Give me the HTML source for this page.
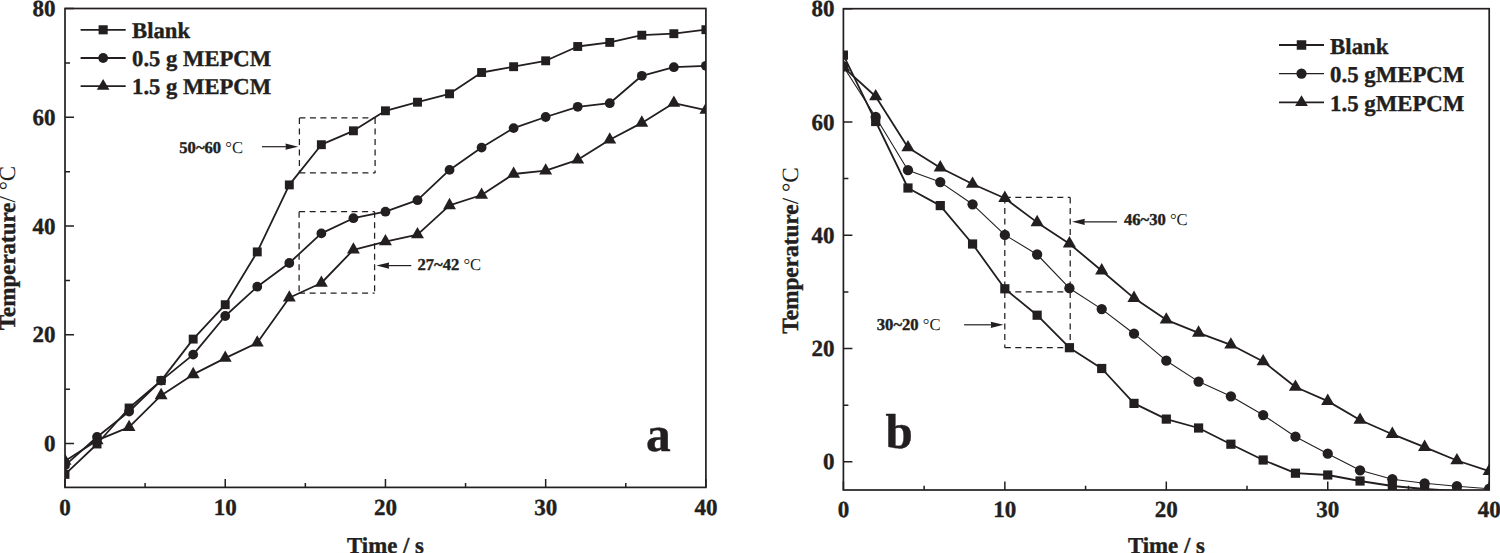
<!DOCTYPE html><html><head><meta charset="utf-8"><style>html,body{margin:0;padding:0;background:#fff;width:1500px;height:553px;overflow:hidden}svg{display:block}text{font-family:"Liberation Serif",serif;fill:#231f20;text-rendering:geometricPrecision}.b{font-weight:bold;stroke:#231f20;stroke-width:0.4px;stroke-linejoin:round}.r{font-weight:normal;stroke:none}</style></head><body>
<svg width="1500" height="553" viewBox="0 0 1500 553">
<rect width="1500" height="553" fill="#fff"/>
<clipPath id="ca"><rect x="65" y="8.5" width="640.9" height="478.9"/></clipPath>
<rect x="65" y="8.5" width="640.9" height="478.9" fill="none" stroke="#231f20" stroke-width="1.7"/>
<path d="M65 443.6H74M65 389.21H70M65 334.83H74M65 280.44H70M65 226.05H74M65 171.66H70M65 117.28H74M65 62.89H70M65 8.5H74M65 487.4V479M145.11 487.4V483.1M225.23 487.4V479M305.34 487.4V483.1M385.45 487.4V479M465.56 487.4V483.1M545.67 487.4V479M625.79 487.4V483.1M705.9 487.4V479" stroke="#231f20" stroke-width="1.5" fill="none"/>
<text x="55.4" y="451.16" text-anchor="end" class="b" font-size="23">0</text>
<text x="55.4" y="342.38" text-anchor="end" class="b" font-size="23">20</text>
<text x="55.4" y="233.61" text-anchor="end" class="b" font-size="23">40</text>
<text x="55.4" y="124.83" text-anchor="end" class="b" font-size="23">60</text>
<text x="55.4" y="16.06" text-anchor="end" class="b" font-size="23">80</text>
<text x="65" y="514.7" text-anchor="middle" class="b" font-size="23">0</text>
<text x="225.23" y="514.7" text-anchor="middle" class="b" font-size="23">10</text>
<text x="385.45" y="514.7" text-anchor="middle" class="b" font-size="23">20</text>
<text x="545.67" y="514.7" text-anchor="middle" class="b" font-size="23">30</text>
<text x="705.9" y="514.7" text-anchor="middle" class="b" font-size="23">40</text>
<g clip-path="url(#ca)">
<polyline points="65,461 97.05,440.4 129.09,427.2 161.13,395.4 193.18,374.4 225.23,358.1 257.27,342.8 289.31,297.8 321.36,283 353.41,249.8 385.45,241.6 417.5,234.6 449.54,205.4 481.59,195 513.63,174 545.67,170.7 577.72,159.8 609.76,139.7 641.81,122.9 673.86,103.1 705.9,110.1" fill="none" stroke="#231f20" stroke-width="1.8" stroke-linejoin="round"/>
<g fill="#231f20">
<path d="M65 453.47L71.45 464.77L58.55 464.77Z"/>
<path d="M97.05 432.87L103.5 444.17L90.59 444.17Z"/>
<path d="M129.09 419.67L135.54 430.97L122.64 430.97Z"/>
<path d="M161.13 387.87L167.58 399.17L154.69 399.17Z"/>
<path d="M193.18 366.87L199.63 378.17L186.73 378.17Z"/>
<path d="M225.23 350.57L231.68 361.87L218.78 361.87Z"/>
<path d="M257.27 335.27L263.72 346.57L250.82 346.57Z"/>
<path d="M289.31 290.27L295.76 301.57L282.87 301.57Z"/>
<path d="M321.36 275.47L327.81 286.77L314.91 286.77Z"/>
<path d="M353.41 242.27L359.86 253.57L346.96 253.57Z"/>
<path d="M385.45 234.07L391.9 245.37L379 245.37Z"/>
<path d="M417.5 227.07L423.94 238.37L411.05 238.37Z"/>
<path d="M449.54 197.87L455.99 209.17L443.09 209.17Z"/>
<path d="M481.59 187.47L488.04 198.77L475.14 198.77Z"/>
<path d="M513.63 166.47L520.08 177.77L507.18 177.77Z"/>
<path d="M545.67 163.17L552.12 174.47L539.22 174.47Z"/>
<path d="M577.72 152.27L584.17 163.57L571.27 163.57Z"/>
<path d="M609.76 132.17L616.22 143.47L603.31 143.47Z"/>
<path d="M641.81 115.37L648.26 126.67L635.36 126.67Z"/>
<path d="M673.86 95.57L680.31 106.87L667.4 106.87Z"/>
<path d="M705.9 102.57L712.35 113.87L699.45 113.87Z"/>
</g></g>
<g clip-path="url(#ca)">
<polyline points="65,465.4 97.05,437 129.09,411.5 161.13,380.6 193.18,354.6 225.23,316 257.27,286.7 289.31,263 321.36,233.4 353.41,218.2 385.45,211.7 417.5,200.2 449.54,169.9 481.59,147.6 513.63,128.1 545.67,117 577.72,106.8 609.76,103.2 641.81,75.8 673.86,67.2 705.9,65.8" fill="none" stroke="#231f20" stroke-width="1.8" stroke-linejoin="round"/>
<g fill="#231f20">
<circle cx="65" cy="465.4" r="4.9"/>
<circle cx="97.05" cy="437" r="4.9"/>
<circle cx="129.09" cy="411.5" r="4.9"/>
<circle cx="161.13" cy="380.6" r="4.9"/>
<circle cx="193.18" cy="354.6" r="4.9"/>
<circle cx="225.23" cy="316" r="4.9"/>
<circle cx="257.27" cy="286.7" r="4.9"/>
<circle cx="289.31" cy="263" r="4.9"/>
<circle cx="321.36" cy="233.4" r="4.9"/>
<circle cx="353.41" cy="218.2" r="4.9"/>
<circle cx="385.45" cy="211.7" r="4.9"/>
<circle cx="417.5" cy="200.2" r="4.9"/>
<circle cx="449.54" cy="169.9" r="4.9"/>
<circle cx="481.59" cy="147.6" r="4.9"/>
<circle cx="513.63" cy="128.1" r="4.9"/>
<circle cx="545.67" cy="117" r="4.9"/>
<circle cx="577.72" cy="106.8" r="4.9"/>
<circle cx="609.76" cy="103.2" r="4.9"/>
<circle cx="641.81" cy="75.8" r="4.9"/>
<circle cx="673.86" cy="67.2" r="4.9"/>
<circle cx="705.9" cy="65.8" r="4.9"/>
</g></g>
<g clip-path="url(#ca)">
<polyline points="65,474.4 97.05,444 129.09,408 161.13,380.6 193.18,339.1 225.23,304.7 257.27,251.9 289.31,184.9 321.36,144.7 353.41,130.8 385.45,110.8 417.5,102.2 449.54,93.8 481.59,72.5 513.63,66.7 545.67,60.8 577.72,46.5 609.76,42.4 641.81,35.2 673.86,33.7 705.9,29.7" fill="none" stroke="#231f20" stroke-width="1.8" stroke-linejoin="round"/>
<g fill="#231f20">
<rect x="60.55" y="469.95" width="8.9" height="8.9"/>
<rect x="92.59" y="439.55" width="8.9" height="8.9"/>
<rect x="124.64" y="403.55" width="8.9" height="8.9"/>
<rect x="156.69" y="376.15" width="8.9" height="8.9"/>
<rect x="188.73" y="334.65" width="8.9" height="8.9"/>
<rect x="220.78" y="300.25" width="8.9" height="8.9"/>
<rect x="252.82" y="247.45" width="8.9" height="8.9"/>
<rect x="284.87" y="180.45" width="8.9" height="8.9"/>
<rect x="316.91" y="140.25" width="8.9" height="8.9"/>
<rect x="348.96" y="126.35" width="8.9" height="8.9"/>
<rect x="381" y="106.35" width="8.9" height="8.9"/>
<rect x="413.05" y="97.75" width="8.9" height="8.9"/>
<rect x="445.09" y="89.35" width="8.9" height="8.9"/>
<rect x="477.14" y="68.05" width="8.9" height="8.9"/>
<rect x="509.18" y="62.25" width="8.9" height="8.9"/>
<rect x="541.22" y="56.35" width="8.9" height="8.9"/>
<rect x="573.27" y="42.05" width="8.9" height="8.9"/>
<rect x="605.31" y="37.95" width="8.9" height="8.9"/>
<rect x="637.36" y="30.75" width="8.9" height="8.9"/>
<rect x="669.4" y="29.25" width="8.9" height="8.9"/>
<rect x="701.45" y="25.25" width="8.9" height="8.9"/>
</g></g>
<clipPath id="cb"><rect x="843.4" y="8.7" width="645.8" height="481.3"/></clipPath>
<rect x="843.4" y="8.7" width="645.8" height="481.3" fill="none" stroke="#231f20" stroke-width="1.7"/>
<path d="M843.4 461.8H852.4M843.4 405.16H848.4M843.4 348.52H852.4M843.4 291.89H848.4M843.4 235.25H852.4M843.4 178.61H848.4M843.4 121.97H852.4M843.4 65.34H848.4M843.4 8.7H852.4M843.4 490V481.6M924.12 490V485.7M1004.85 490V481.6M1085.58 490V485.7M1166.3 490V481.6M1247.03 490V485.7M1327.75 490V481.6M1408.47 490V485.7M1489.2 490V481.6" stroke="#231f20" stroke-width="1.5" fill="none"/>
<text x="834.4" y="469.36" text-anchor="end" class="b" font-size="23">0</text>
<text x="834.4" y="356.08" text-anchor="end" class="b" font-size="23">20</text>
<text x="834.4" y="242.81" text-anchor="end" class="b" font-size="23">40</text>
<text x="834.4" y="129.53" text-anchor="end" class="b" font-size="23">60</text>
<text x="834.4" y="16.26" text-anchor="end" class="b" font-size="23">80</text>
<text x="843.4" y="517.3" text-anchor="middle" class="b" font-size="23">0</text>
<text x="1004.85" y="517.3" text-anchor="middle" class="b" font-size="23">10</text>
<text x="1166.3" y="517.3" text-anchor="middle" class="b" font-size="23">20</text>
<text x="1327.75" y="517.3" text-anchor="middle" class="b" font-size="23">30</text>
<text x="1489.2" y="517.3" text-anchor="middle" class="b" font-size="23">40</text>
<g clip-path="url(#cb)">
<polyline points="843.4,67.2 875.69,96.5 907.98,147.5 940.27,167.7 972.56,184 1004.85,198.2 1037.14,222.4 1069.43,243.7 1101.72,270.7 1134.01,298.1 1166.3,319.8 1198.59,332.9 1230.88,344.8 1263.17,361.5 1295.46,387 1327.75,401.1 1360.04,420 1392.33,434.2 1424.62,447.2 1456.91,460.5 1489.2,471.1" fill="none" stroke="#231f20" stroke-width="1.8" stroke-linejoin="round"/>
<g fill="#231f20">
<path d="M843.4 59.6L850 71L836.8 71Z"/>
<path d="M875.69 88.9L882.29 100.3L869.09 100.3Z"/>
<path d="M907.98 139.9L914.58 151.3L901.38 151.3Z"/>
<path d="M940.27 160.1L946.87 171.5L933.67 171.5Z"/>
<path d="M972.56 176.4L979.16 187.8L965.96 187.8Z"/>
<path d="M1004.85 190.6L1011.45 202L998.25 202Z"/>
<path d="M1037.14 214.8L1043.74 226.2L1030.54 226.2Z"/>
<path d="M1069.43 236.1L1076.03 247.5L1062.83 247.5Z"/>
<path d="M1101.72 263.1L1108.32 274.5L1095.12 274.5Z"/>
<path d="M1134.01 290.5L1140.61 301.9L1127.41 301.9Z"/>
<path d="M1166.3 312.2L1172.9 323.6L1159.7 323.6Z"/>
<path d="M1198.59 325.3L1205.19 336.7L1191.99 336.7Z"/>
<path d="M1230.88 337.2L1237.48 348.6L1224.28 348.6Z"/>
<path d="M1263.17 353.9L1269.77 365.3L1256.57 365.3Z"/>
<path d="M1295.46 379.4L1302.06 390.8L1288.86 390.8Z"/>
<path d="M1327.75 393.5L1334.35 404.9L1321.15 404.9Z"/>
<path d="M1360.04 412.4L1366.64 423.8L1353.44 423.8Z"/>
<path d="M1392.33 426.6L1398.93 438L1385.73 438Z"/>
<path d="M1424.62 439.6L1431.22 451L1418.02 451Z"/>
<path d="M1456.91 452.9L1463.51 464.3L1450.31 464.3Z"/>
<path d="M1489.2 463.5L1495.8 474.9L1482.6 474.9Z"/>
</g></g>
<g clip-path="url(#cb)">
<polyline points="843.4,66.5 875.69,117 907.98,170.2 940.27,182.1 972.56,204.3 1004.85,234.9 1037.14,254.5 1069.43,288.2 1101.72,309.1 1134.01,333.7 1166.3,360.7 1198.59,381.6 1230.88,396.3 1263.17,415.1 1295.46,436.7 1327.75,453.7 1360.04,470.3 1392.33,479.2 1424.62,483.3 1456.91,486.2 1489.2,488.7" fill="none" stroke="#231f20" stroke-width="1.1" stroke-linejoin="round"/>
<g fill="#231f20">
<circle cx="843.4" cy="66.5" r="5.15"/>
<circle cx="875.69" cy="117" r="5.15"/>
<circle cx="907.98" cy="170.2" r="5.15"/>
<circle cx="940.27" cy="182.1" r="5.15"/>
<circle cx="972.56" cy="204.3" r="5.15"/>
<circle cx="1004.85" cy="234.9" r="5.15"/>
<circle cx="1037.14" cy="254.5" r="5.15"/>
<circle cx="1069.43" cy="288.2" r="5.15"/>
<circle cx="1101.72" cy="309.1" r="5.15"/>
<circle cx="1134.01" cy="333.7" r="5.15"/>
<circle cx="1166.3" cy="360.7" r="5.15"/>
<circle cx="1198.59" cy="381.6" r="5.15"/>
<circle cx="1230.88" cy="396.3" r="5.15"/>
<circle cx="1263.17" cy="415.1" r="5.15"/>
<circle cx="1295.46" cy="436.7" r="5.15"/>
<circle cx="1327.75" cy="453.7" r="5.15"/>
<circle cx="1360.04" cy="470.3" r="5.15"/>
<circle cx="1392.33" cy="479.2" r="5.15"/>
<circle cx="1424.62" cy="483.3" r="5.15"/>
<circle cx="1456.91" cy="486.2" r="5.15"/>
<circle cx="1489.2" cy="488.7" r="5.15"/>
</g></g>
<g clip-path="url(#cb)">
<polyline points="843.4,55.1 875.69,121.5 907.98,188 940.27,205.6 972.56,244 1004.85,288.8 1037.14,315.2 1069.43,347.7 1101.72,368.5 1134.01,403.4 1166.3,419.1 1198.59,428 1230.88,444.2 1263.17,460 1295.46,473.2 1327.75,475 1360.04,481 1392.33,486 1424.62,489 1456.91,491 1489.2,492" fill="none" stroke="#231f20" stroke-width="1.8" stroke-linejoin="round"/>
<g fill="#231f20">
<rect x="838.8" y="50.5" width="9.2" height="9.2"/>
<rect x="871.09" y="116.9" width="9.2" height="9.2"/>
<rect x="903.38" y="183.4" width="9.2" height="9.2"/>
<rect x="935.67" y="201" width="9.2" height="9.2"/>
<rect x="967.96" y="239.4" width="9.2" height="9.2"/>
<rect x="1000.25" y="284.2" width="9.2" height="9.2"/>
<rect x="1032.54" y="310.6" width="9.2" height="9.2"/>
<rect x="1064.83" y="343.1" width="9.2" height="9.2"/>
<rect x="1097.12" y="363.9" width="9.2" height="9.2"/>
<rect x="1129.41" y="398.8" width="9.2" height="9.2"/>
<rect x="1161.7" y="414.5" width="9.2" height="9.2"/>
<rect x="1193.99" y="423.4" width="9.2" height="9.2"/>
<rect x="1226.28" y="439.6" width="9.2" height="9.2"/>
<rect x="1258.57" y="455.4" width="9.2" height="9.2"/>
<rect x="1290.86" y="468.6" width="9.2" height="9.2"/>
<rect x="1323.15" y="470.4" width="9.2" height="9.2"/>
<rect x="1355.44" y="476.4" width="9.2" height="9.2"/>
<rect x="1387.73" y="481.4" width="9.2" height="9.2"/>
<rect x="1420.02" y="484.4" width="9.2" height="9.2"/>
<rect x="1452.31" y="486.4" width="9.2" height="9.2"/>
<rect x="1484.6" y="487.4" width="9.2" height="9.2"/>
</g></g>
<text x="385.5" y="552.9" text-anchor="middle" class="b" font-size="22.8">Time / s</text>
<text x="1166.4" y="552.9" text-anchor="middle" class="b" font-size="22.8">Time / s</text>
<text transform="translate(15.3 248.0) rotate(-90)" text-anchor="middle" font-size="23"><tspan class="b">Temperature</tspan><tspan class="r">/ °C</tspan></text>
<text transform="translate(798 250.45) rotate(-90)" text-anchor="middle" font-size="23.3"><tspan class="b">Temperature</tspan><tspan class="r">/ °C</tspan></text>
<text x="646" y="451.3" class="b" font-size="49.5">a</text>
<text x="885.6" y="448" class="b" font-size="49">b</text>
<line x1="80.6" y1="29.8" x2="125.7" y2="29.8" stroke="#231f20" stroke-width="1.8"/>
<g fill="#231f20">
<rect x="98.6" y="25.25" width="9.1" height="9.1"/>
</g>
<text x="132.1" y="37.8" class="b" font-size="22.65">Blank</text>
<line x1="80.6" y1="58" x2="125.7" y2="58" stroke="#231f20" stroke-width="1.8"/>
<g fill="#231f20">
<circle cx="103.15" cy="58" r="4.9"/>
</g>
<text x="132.1" y="66" class="b" font-size="22.65">0.5 g MEPCM</text>
<line x1="80.6" y1="86.2" x2="125.7" y2="86.2" stroke="#231f20" stroke-width="1.8"/>
<g fill="#231f20">
<path d="M103.15 79L109.45 89.8L96.85 89.8Z"/>
</g>
<text x="132.1" y="94.2" class="b" font-size="22.65">1.5 g MEPCM</text>
<line x1="1279" y1="45" x2="1324" y2="45" stroke="#231f20" stroke-width="1.8"/>
<g fill="#231f20">
<rect x="1296.75" y="40.25" width="9.5" height="9.5"/>
</g>
<text x="1330.1" y="53.5" class="b" font-size="22.8">Blank</text>
<line x1="1279" y1="73.6" x2="1324" y2="73.6" stroke="#231f20" stroke-width="1.1"/>
<g fill="#231f20">
<circle cx="1301.5" cy="73.6" r="5.15"/>
</g>
<text x="1330.1" y="82.1" class="b" font-size="22.8">0.5 gMEPCM</text>
<line x1="1279" y1="102.4" x2="1324" y2="102.4" stroke="#231f20" stroke-width="1.8"/>
<g fill="#231f20">
<path d="M1301.5 95.13L1307.9 106.03L1295.1 106.03Z"/>
</g>
<text x="1330.1" y="110.9" class="b" font-size="22.8">1.5 gMEPCM</text>
<line x1="299.4" y1="117.9" x2="375.1" y2="117.9" stroke="#231f20" stroke-width="1.25" stroke-dasharray="6 4.5"/>
<line x1="299.4" y1="117.9" x2="299.4" y2="172.9" stroke="#231f20" stroke-width="1.25" stroke-dasharray="6 4.5"/>
<line x1="375.1" y1="117.9" x2="375.1" y2="172.9" stroke="#231f20" stroke-width="1.25" stroke-dasharray="6 4.5"/>
<line x1="299.4" y1="172.9" x2="375.1" y2="172.9" stroke="#231f20" stroke-width="1.25" stroke-dasharray="6 4.5"/>
<line x1="299.1" y1="211.7" x2="374.6" y2="211.7" stroke="#231f20" stroke-width="1.25" stroke-dasharray="6 4.5"/>
<line x1="299.1" y1="211.7" x2="299.1" y2="293.1" stroke="#231f20" stroke-width="1.25" stroke-dasharray="6 4.5"/>
<line x1="374.6" y1="211.7" x2="374.6" y2="293.1" stroke="#231f20" stroke-width="1.25" stroke-dasharray="6 4.5"/>
<line x1="299.1" y1="293.1" x2="374.6" y2="293.1" stroke="#231f20" stroke-width="1.25" stroke-dasharray="6 4.5"/>
<line x1="262" y1="146.7" x2="288.5" y2="146.7" stroke="#231f20" stroke-width="1.2"/>
<path d="M298.2 146.7L285.5 143.6L285.9 146.7L285.5 149.8Z" fill="#231f20"/>
<line x1="411.3" y1="265.6" x2="386.1" y2="265.6" stroke="#231f20" stroke-width="1.2"/>
<path d="M376.4 265.6L389.1 262.5L388.7 265.6L389.1 268.7Z" fill="#231f20"/>
<text x="179.3" y="153.2" font-size="16.6"><tspan class="b">50~60</tspan><tspan class="r"> °C</tspan></text>
<text x="417.5" y="270.3" font-size="16.6"><tspan class="b">27~42</tspan><tspan class="r"> °C</tspan></text>
<line x1="1004.8" y1="197.4" x2="1070.2" y2="197.4" stroke="#231f20" stroke-width="1.25" stroke-dasharray="6 4.5"/>
<line x1="1004.8" y1="197.4" x2="1004.8" y2="347.7" stroke="#231f20" stroke-width="1.25" stroke-dasharray="6 4.5"/>
<line x1="1070.2" y1="197.4" x2="1070.2" y2="347.7" stroke="#231f20" stroke-width="1.25" stroke-dasharray="6 4.5"/>
<line x1="1004.8" y1="347.7" x2="1070.2" y2="347.7" stroke="#231f20" stroke-width="1.25" stroke-dasharray="6 4.5"/>
<line x1="1004.8" y1="291.8" x2="1070.2" y2="291.8" stroke="#231f20" stroke-width="1.25" stroke-dasharray="6 4.5"/>
<line x1="1117" y1="221.8" x2="1081.8" y2="221.8" stroke="#231f20" stroke-width="1.2"/>
<path d="M1072.1 221.8L1084.8 218.7L1084.4 221.8L1084.8 224.9Z" fill="#231f20"/>
<line x1="964.1" y1="324.8" x2="993.8" y2="324.8" stroke="#231f20" stroke-width="1.2"/>
<path d="M1003.5 324.8L990.8 321.7L991.2 324.8L990.8 327.9Z" fill="#231f20"/>
<text x="1124" y="224.9" font-size="16.6"><tspan class="b">46~30</tspan><tspan class="r"> °C</tspan></text>
<text x="876.8" y="329.8" font-size="16.6"><tspan class="b">30~20</tspan><tspan class="r"> °C</tspan></text>
</svg></body></html>
